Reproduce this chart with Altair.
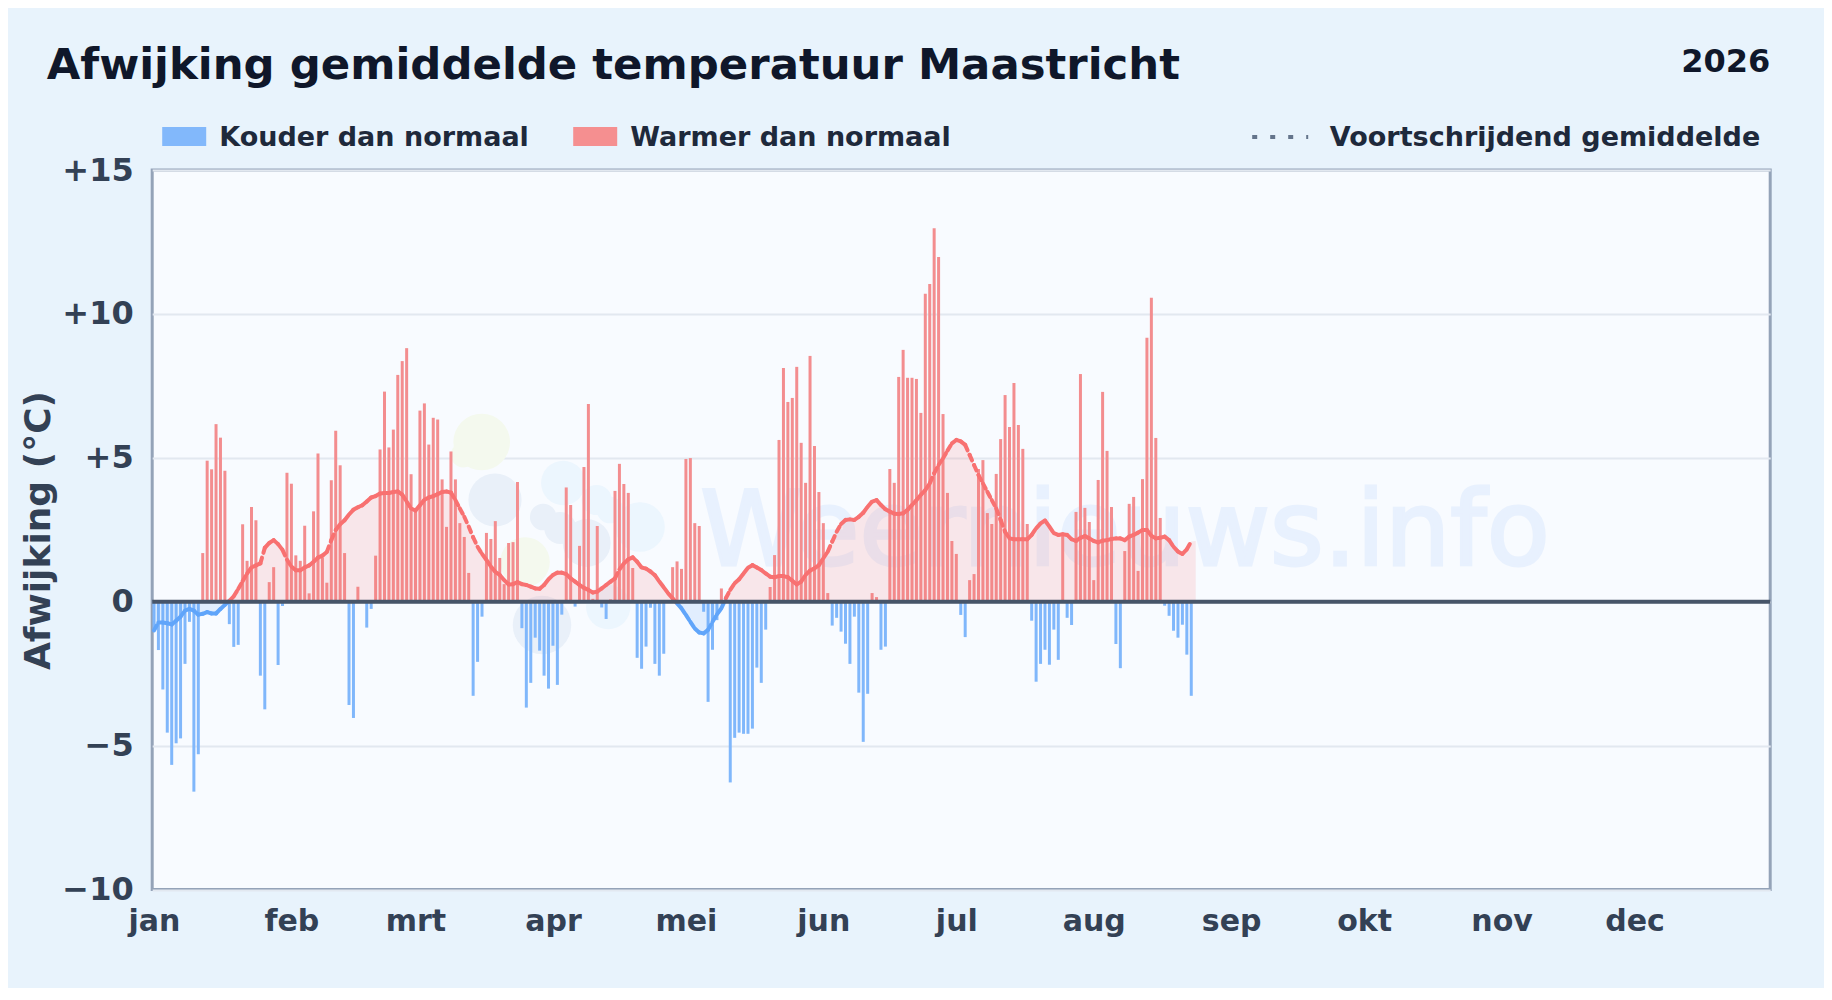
import altair as alt
import pandas as pd

TITLE = "Afwijking gemiddelde temperatuur Maastricht"
YEAR = "2026"
MONTH_STARTS = [0, 31, 59, 90, 120, 151, 181, 212, 243, 273, 304, 334]
MONTH_LABELS = ["jan", "feb", "mrt", "apr", "mei", "jun", "jul", "aug", "sep", "okt", "nov", "dec"]
Y_TICKS = [-10, -5, 0, 5, 10, 15]

DAILY = [
    -1.0, -1.68, -3.05, -4.55, -5.67, -4.92, -4.75, -2.16, -0.7, -6.6,
    -5.3, 1.69, 4.9, 4.6, 6.17, 5.7, 4.55, -0.78, -1.57, -1.5,
    2.69, 1.42, 3.29, 2.83, -2.57, -3.74, 0.68, 1.2, -2.2, -0.15,
    4.48, 4.1, 1.61, 1.42, 2.64, 0.29, 3.14, 5.15, 1.53, 0.66,
    4.22, 5.94, 4.74, 1.69, -3.59, -4.04, 0.52, 0.0, -0.9, -0.25,
    1.6, 5.29, 7.3, 5.36, 5.98, 7.88, 8.36, 8.81, 4.43, 3.2,
    6.64, 6.89, 5.46, 6.39, 6.33, 4.25, 2.6, 5.22, 4.25, 2.73,
    2.25, 1.0, -3.27, -2.09, -0.52, 2.39, 2.18, 2.8, 1.52, 0.61,
    2.04, 2.07, 4.16, -0.92, -3.68, -2.82, -1.25, -1.7, -2.57, -3.02,
    -1.53, -2.89, -0.45, 3.97, 3.36, -0.17, 1.94, 4.68, 6.87, 0.1,
    2.63, -0.2, -0.6, 0.08, 3.85, 4.79, 4.09, 3.78, 1.17, -1.95,
    -2.33, -1.56, -0.21, -2.16, -2.57, -1.81, 0.0, 1.2, 1.4, 1.14,
    4.96, 4.99, 2.73, 2.63, -0.35, -3.48, -1.67, -0.64, 0.46, 0.0,
    -6.28, -4.73, -4.55, -4.59, -4.59, -4.41, -2.29, -2.82, -0.97, 0.51,
    1.62, 5.62, 8.12, 6.94, 7.08, 8.16, 5.52, 4.13, 8.54, 5.41,
    3.81, 2.73, 0.3, -0.83, -0.56, -1.04, -1.46, -2.16, -0.52, -3.16,
    -4.87, -3.2, 0.3, 0.16, -1.67, -1.56, 4.61, 4.13, 7.81, 8.75,
    7.78, 7.78, 7.74, 6.56, 10.7, 11.04, 12.98, 11.98, 6.52, 3.78,
    2.11, 1.66, -0.46, -1.23, 0.75, 0.96, 4.61, 4.92, 3.08, 2.7,
    4.44, 5.65, 7.18, 6.07, 7.6, 6.14, 5.31, 2.7, -0.66, -2.78,
    -2.16, -1.67, -2.19, -0.97, -2.02, 2.28, -0.56, -0.81, 3.12, 7.91,
    3.26, 2.77, 0.75, 4.23, 7.29, 5.24, 3.29, -1.47, -2.31, 1.76,
    3.4, 3.64, 1.07, 4.26, 9.17, 10.56, 5.69, 2.91, -0.14, -0.49,
    -1.01, -1.25, -0.8, -1.84, -3.27,
]

ROLLING = [
    -1.0, -0.72, -0.72, -0.75, -0.79, -0.66, -0.52, -0.31, -0.25, -0.31,
    -0.45, -0.42, -0.36, -0.41, -0.41, -0.25, -0.11, 0.03, 0.19, 0.44,
    0.71, 0.98, 1.19, 1.26, 1.33, 1.87, 2.04, 2.14, 2.0, 1.8,
    1.46, 1.22, 1.09, 1.09, 1.19, 1.26, 1.39, 1.53, 1.6, 1.73,
    2.14, 2.49, 2.69, 2.83, 3.03, 3.2, 3.28, 3.35, 3.48, 3.62,
    3.67, 3.76, 3.78, 3.78, 3.81, 3.83, 3.72, 3.48, 3.24, 3.17,
    3.35, 3.54, 3.62, 3.67, 3.74, 3.81, 3.83, 3.79, 3.53, 3.24,
    2.95, 2.61, 2.24, 1.91, 1.66, 1.45, 1.22, 1.04, 0.93, 0.75,
    0.6, 0.61, 0.68, 0.61, 0.58, 0.52, 0.46, 0.45, 0.58, 0.78,
    0.93, 1.01, 1.01, 0.96, 0.81, 0.7, 0.58, 0.48, 0.41, 0.32,
    0.35, 0.46, 0.58, 0.7, 0.81, 1.12, 1.33, 1.47, 1.54, 1.39,
    1.19, 1.15, 1.05, 0.92, 0.7, 0.5, 0.29, 0.12, -0.06, -0.23,
    -0.46, -0.7, -0.93, -1.07, -1.1, -0.98, -0.7, -0.44, -0.23, 0.12,
    0.41, 0.64, 0.78, 0.98, 1.18, 1.27, 1.19, 1.1, 0.98, 0.87,
    0.85, 0.89, 0.89, 0.85, 0.73, 0.6, 0.7, 0.93, 1.08, 1.16,
    1.27, 1.51, 1.74, 2.09, 2.43, 2.7, 2.84, 2.86, 2.84, 2.95,
    3.09, 3.3, 3.48, 3.53, 3.36, 3.21, 3.13, 3.06, 3.05, 3.07,
    3.19, 3.36, 3.53, 3.71, 3.88, 4.11, 4.46, 4.75, 4.98, 5.25,
    5.5, 5.62, 5.57, 5.45, 5.1, 4.75, 4.4, 4.11, 3.82, 3.53,
    3.24, 2.84, 2.43, 2.2, 2.17, 2.17, 2.17, 2.17, 2.32, 2.55,
    2.72, 2.82, 2.61, 2.38, 2.32, 2.34, 2.32, 2.17, 2.11, 2.22,
    2.28, 2.2, 2.11, 2.06, 2.12, 2.14, 2.18, 2.2, 2.2, 2.14,
    2.26, 2.32, 2.4, 2.49, 2.49, 2.29, 2.2, 2.22, 2.26, 2.14,
    1.91, 1.74, 1.66, 1.82, 2.09,
]
AREA_END_VALUE = 2.11

# faint logo behind the data: centre x, centre y (plot pixels), radius, colour
LOGO_X = [329.5, 311, 342.8, 391, 408, 434.5, 372.8, 372.8, 411, 444.5, 457.8, 487.8, 389.8, 456]
LOGO_Y = [272, 285, 330, 347, 358, 373, 392, 392, 313, 330, 340, 357, 455, 437]
LOGO_R = [32, 14, 30, 15, 18, 27, 33, 28, 25, 17, 15, 28, 33, 25]
LOGO_COLOR = ["#f4f9ee", "#f4f9ee", "#e9f0f9", "#e9f0f9", "#e9f0f9", "#e9f0f9", "#f8fbff", "#f4f9ee",
              "#ecf6fe", "#ecf6fe", "#ecf6fe", "#ecf6fe", "#e9f0f9", "#ecf6fe"]

WIDTH, HEIGHT = 1618, 719.5
RED, BLUE = "#f87171", "#60a5fa"
sign_scale = alt.Scale(domain=["warm", "koud"], range=[RED, BLUE])
bar_scale = alt.Scale(domain=["warm", "koud"], range=["#f38d8f", "#80b7fb"])

bars = pd.DataFrame({"day": range(len(DAILY)), "value": DAILY})
bars["zero"] = 0
bars["sign"] = ["warm" if v >= 0 else "koud" for v in DAILY]

area_values = ROLLING + [AREA_END_VALUE]
area = pd.DataFrame({"day": range(len(area_values)), "value": area_values})
area["up"] = area["value"].clip(lower=0)
area["down"] = area["value"].clip(upper=0)
area["zero"] = 0

segments = []
for i in range(len(ROLLING) - 1):
    sign = "warm" if ROLLING[i] + ROLLING[i + 1] >= 0 else "koud"
    segments.append({"seg": i, "day": i, "value": ROLLING[i], "sign": sign})
    segments.append({"seg": i, "day": i + 1, "value": ROLLING[i + 1], "sign": sign})
segments = pd.DataFrame(segments)

x_scale = alt.Scale(domain=[-0.4, 364.6], nice=False, zero=False, padding=0)
y_scale = alt.Scale(domain=[-10, 15], nice=False, zero=False)

labels_js = str(MONTH_LABELS)
starts_js = str(MONTH_STARTS)
x_axis = alt.Axis(
    values=MONTH_STARTS, labelExpr=f"{labels_js}[indexof({starts_js}, datum.value)]",
    title=None, grid=False, domain=False, ticks=False, labelFont="DejaVu Sans",
    labelFontWeight="bold", labelFontSize=30, labelColor="#334155", labelPadding=17,
    labelFlush=False, labelOverlap=False,
)
y_axis = alt.Axis(
    values=Y_TICKS,
    labelExpr="datum.value > 0 ? '+' + datum.value : (datum.value < 0 ? '\u2212' + abs(datum.value) : '0')",
    title="Afwijking (\u00b0C)", titleFont="DejaVu Sans", titleFontWeight="bold", titleFontSize=36,
    titleColor="#334155", titleAngle=270, titleX=-114, titleY=360, titleBaseline="middle",
    grid=True, gridColor="#e2e8f0", gridWidth=2, domain=False, ticks=False,
    labelFont="DejaVu Sans", labelFontWeight="bold", labelFontSize=32, labelColor="#334155",
    labelPadding=19, labelFlush=False, labelOverlap=False,
)

logo_df = pd.DataFrame({"px": LOGO_X, "py": LOGO_Y, "r": LOGO_R, "c": LOGO_COLOR})
logo_df["s"] = [3.1416 * r * r for r in LOGO_R]
logo_df["order"] = range(len(logo_df))
logo = alt.Chart(logo_df).mark_circle(opacity=1).encode(
    x=alt.X("px:Q", scale=None, axis=None),
    y=alt.Y("py:Q", scale=None, axis=None),
    size=alt.Size("s:Q", scale=None, legend=None),
    color=alt.Color("c:N", scale=None, legend=None),
    order=alt.Order("order:Q"),
)
wm = alt.Chart(pd.DataFrame({"t": ["Weernieuws.info"]})).mark_text(
    font="DejaVu Sans", fontSize=103, color="#3b82f6", opacity=0.08, align="left", baseline="alphabetic",
    stroke="#3b82f6", strokeWidth=3,
).encode(text="t:N", x=alt.value(548), y=alt.value(395))

axes_layer = alt.Chart(bars).mark_bar(size=3).encode(
    x=alt.X("day:Q", scale=x_scale, axis=x_axis),
    y=alt.Y("value:Q", scale=y_scale, axis=y_axis),
    y2="zero:Q",
    color=alt.Color("sign:N", scale=bar_scale, legend=None),
)
area_up = alt.Chart(area).mark_area(color=RED, opacity=0.15).encode(
    x=alt.X("day:Q", scale=x_scale), y=alt.Y("up:Q", scale=y_scale), y2="zero:Q")
area_down = alt.Chart(area).mark_area(color=BLUE, opacity=0.15).encode(
    x=alt.X("day:Q", scale=x_scale), y=alt.Y("down:Q", scale=y_scale), y2="zero:Q")
line = alt.Chart(segments).mark_line(strokeWidth=4, strokeCap="round", strokeDash=[6, 5]).encode(
    x=alt.X("day:Q", scale=x_scale), y=alt.Y("value:Q", scale=y_scale),
    detail="seg:N", color=alt.Color("sign:N", scale=sign_scale, legend=None),
)
zero_line = alt.Chart(pd.DataFrame({"z": [0]})).mark_rule(color="#475569", strokeWidth=4).encode(
    y=alt.Y("z:Q", scale=y_scale))


def label(text, x, size, color, y, align="left"):
    return alt.Chart(pd.DataFrame({"t": [text]})).mark_text(
        font="DejaVu Sans", fontWeight="bold", fontSize=size, color=color, align=align, baseline="alphabetic",
    ).encode(text="t:N", x=alt.value(x), y=alt.value(y))


def swatch(x, color):
    return alt.Chart(pd.DataFrame({"a": [0]})).mark_rect(color=color, opacity=1).encode(
        x=alt.value(x), x2=alt.value(x + 44), y=alt.value(-43), y2=alt.value(-24))


dots = alt.Chart(pd.DataFrame({"a": [0]})).mark_rule(
    color="#64748b", strokeWidth=4, strokeDash=[5, 13]).encode(
    x=alt.value(1100), x2=alt.value(1156), y=alt.value(-33))

chart = alt.layer(
    logo, wm, axes_layer, area_up, area_down, line, zero_line,
    label(TITLE, -105.5, 43.4, "#0f172a", -91),
    label(YEAR, WIDTH, 32, "#0f172a", -98, "right"),
    swatch(10, "#82b8fb"), label("Kouder dan normaal", 67, 27, "#1e293b", -24),
    swatch(421, "#f58f90"), label("Warmer dan normaal", 478, 27, "#1e293b", -24),
    dots, label("Voortschrijdend gemiddelde", 1608, 27, "#1e293b", -24, "right"),
).resolve_scale(x="shared", y="shared", color="independent").properties(
    width=WIDTH, height=HEIGHT,
    background="#e8f3fc",
    padding={"left": 144.2, "top": 162, "right": 53.8, "bottom": 98.5},
    autosize=alt.AutoSizeParams(type="none"),
).configure_view(fill="#f8fbff", stroke="#94a3b8", strokeWidth=3)

chart.save("out.html", embed_options={"renderer": "svg", "actions": False})
